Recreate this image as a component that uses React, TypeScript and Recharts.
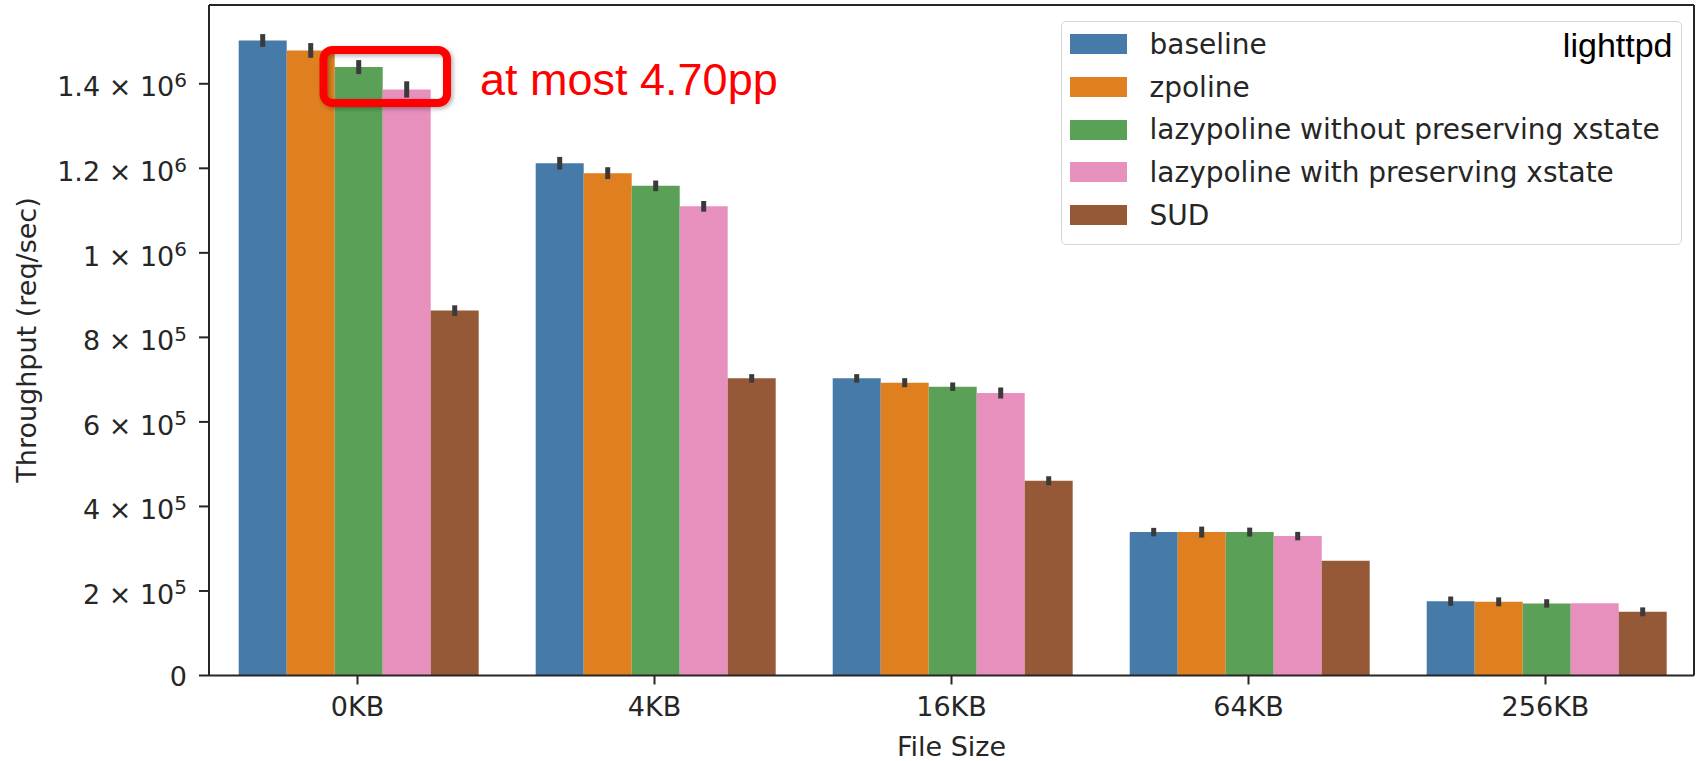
import React from "react";
import {
  BarChart,
  Bar,
  XAxis,
  YAxis,
  Legend,
  ErrorBar,
  CartesianGrid
} from "recharts";

// file sizes on the x axis
const categories = ["0KB", "4KB", "16KB", "64KB", "256KB"];

// throughput (req/sec)
const baseline = [1502500, 1212000, 703000, 339300, 175900];
const zpoline = [1478900, 1188600, 692800, 339300, 174300];
const lazyNoXstate = [1439500, 1158500, 683300, 339300, 170500];
const lazyXstate = [1386600, 1110000, 668400, 329800, 171000];
const sud = [863300, 703000, 460800, 271300, 150600];

// half length of the error bars
const baselineErr = [15000, 15000, 10000, 10000, 11000];
const zpolineErr = [17400, 14000, 10700, 13000, 10600];
const lazyNoXstateErr = [16600, 12600, 10000, 10600, 10000];
const lazyXstateErr = [19300, 12600, 13000, 10000, 0];
const sudErr = [12600, 10000, 10600, 0, 10600];

const yTicks = [0, 200000, 400000, 600000, 800000, 1000000, 1200000, 1400000];

const series = [
  { key: "baseline", name: "baseline", color: "#467aa8" },
  { key: "zpoline", name: "zpoline", color: "#df7f20" },
  { key: "lazyNoXstate", name: "lazypoline without preserving xstate", color: "#5aa157" },
  { key: "lazyXstate", name: "lazypoline with preserving xstate", color: "#e78fbd" },
  { key: "sud", name: "SUD", color: "#965938" }
];

const data = categories.map((name, i) => ({
  name,
  baseline: baseline[i],
  zpoline: zpoline[i],
  lazyNoXstate: lazyNoXstate[i],
  lazyXstate: lazyXstate[i],
  sud: sud[i],
  baselineErr: baselineErr[i],
  zpolineErr: zpolineErr[i],
  lazyNoXstateErr: lazyNoXstateErr[i],
  lazyXstateErr: lazyXstateErr[i],
  sudErr: sudErr[i]
}));

const FONT = "DejaVu Sans";
const INK = "#262626";

const YTick = (props: any) => {
  const { x, y, payload } = props;
  const v = payload.value;
  if (v === 0) {
    return (
      <text x={x} y={y + 10} textAnchor="end" fontFamily={FONT} fontSize={27} fill={INK}>
        0
      </text>
    );
  }
  const exp = Math.floor(Math.log10(v));
  const mant = String(Number((v / Math.pow(10, exp)).toFixed(1)));
  return (
    <text x={x} y={y + 12.7} textAnchor="end" fontFamily={FONT} fontSize={27} fill={INK}>
      {mant + " \u00d7 10"}
      <tspan fontSize={20} dy={-9.4}>
        {exp}
      </tspan>
    </text>
  );
};

const XTick = (props: any) => {
  const { x, y, payload } = props;
  return (
    <text x={x} y={y + 31} textAnchor="middle" fontFamily={FONT} fontSize={27} fill={INK}>
      {payload.value}
    </text>
  );
};

const xLabel = (props: any) => {
  const vb = props.viewBox || { x: 209, width: 1485 };
  return (
    <text x={vb.x + vb.width / 2} y={756} textAnchor="middle" fontFamily={FONT} fontSize={27} fill={INK}>
      File Size
    </text>
  );
};

const yLabel = () => (
  <text
    x={36}
    y={340}
    transform="rotate(-90, 36, 340)"
    textAnchor="middle"
    fontFamily={FONT}
    fontSize={27}
    fill={INK}
  >
    Throughput (req/sec)
  </text>
);

// legend drawn from the series list so the order stays as in the plot
const renderLegend = () => (
  <div
    style={{
      position: "relative",
      boxSizing: "border-box",
      width: 621,
      height: 224,
      border: "1.5px solid #d6d6d6",
      borderRadius: 5,
      background: "rgba(255,255,255,0.8)",
      padding: "1px 0 0 8px",
      fontFamily: FONT,
      fontSize: 28,
      color: INK
    }}
  >
    {series.map((s) => (
      <div key={s.key} style={{ display: "flex", alignItems: "center", height: 42.7 }}>
        <span style={{ display: "inline-block", width: 57, height: 20, background: s.color, marginRight: 22.5 }} />
        <span style={{ whiteSpace: "nowrap" }}>{s.name}</span>
      </div>
    ))}
    <span
      style={{
        position: "absolute",
        right: 8.5,
        top: 5.7,
        fontFamily: "Liberation Sans",
        fontSize: 34,
        lineHeight: "34px",
        color: "#000"
      }}
    >
      lighttpd
    </span>
  </div>
);

const axisStyle = { stroke: INK, strokeWidth: 2 };

// top and right spines of the frame
const topLine = (p: any) => [p && p.offset ? p.offset.top : 5];
const rightLine = (p: any) => [p && p.offset ? p.offset.left + p.offset.width : 1694];

export default function App() {
  return (
    <div style={{ position: "absolute", left: 0, top: 0, width: 1700, height: 761, background: "#fff" }}>
      <BarChart
        width={1700}
        height={761}
        data={data}
        margin={{ top: 5, right: 6, bottom: 25.5, left: 9 }}
        barCategoryGap="10%"
        barGap={0}
      >
        <CartesianGrid
          horizontalCoordinatesGenerator={topLine}
          verticalCoordinatesGenerator={rightLine}
          stroke={INK}
          strokeWidth={2}
          strokeOpacity={1}
        />
        <XAxis
          dataKey="name"
          height={60}
          axisLine={axisStyle}
          tickLine={axisStyle}
          tickSize={9}
          tickMargin={0}
          tick={<XTick />}
          label={{ value: "File Size", content: xLabel }}
        />
        <YAxis
          width={200}
          domain={[0, 1586400]}
          allowDataOverflow
          ticks={yTicks}
          interval={0}
          axisLine={axisStyle}
          tickLine={axisStyle}
          tickSize={10}
          tickMargin={12}
          tick={<YTick />}
          label={{ value: "Throughput (req/sec)", content: yLabel }}
        />
        <Legend
          layout="vertical"
          align="center"
          verticalAlign="middle"
          content={renderLegend}
          wrapperStyle={{ left: 1061, top: 21, width: 621 }}
        />
        {series.map((s) => (
          <Bar key={s.key} dataKey={s.key} name={s.name} fill={s.color} isAnimationActive={false}>
            <ErrorBar
              dataKey={s.key + "Err"}
              width={0}
              strokeWidth={5}
              stroke="#3a3a3a"
              direction="y"
              isAnimationActive={false}
            />
          </Bar>
        ))}
      </BarChart>
      <svg
        width={1700}
        height={761}
        style={{ position: "absolute", left: 0, top: 0, pointerEvents: "none" }}
      >
        <defs>
          <filter id="boxShadow" x="-20%" y="-20%" width="140%" height="140%">
            <feDropShadow dx={2} dy={2} stdDeviation={2} floodColor="#000" floodOpacity={0.3} />
          </filter>
        </defs>
        <rect
          x={323.5}
          y={50}
          width={123.5}
          height={53}
          rx={9}
          fill="none"
          stroke="#ff0000"
          strokeWidth={8}
          filter="url(#boxShadow)"
        />
        <text x={480} y={95} fontFamily="Liberation Sans" fontSize={45} fill="#ff0000">
          at most 4.70pp
        </text>
      </svg>
    </div>
  );
}
